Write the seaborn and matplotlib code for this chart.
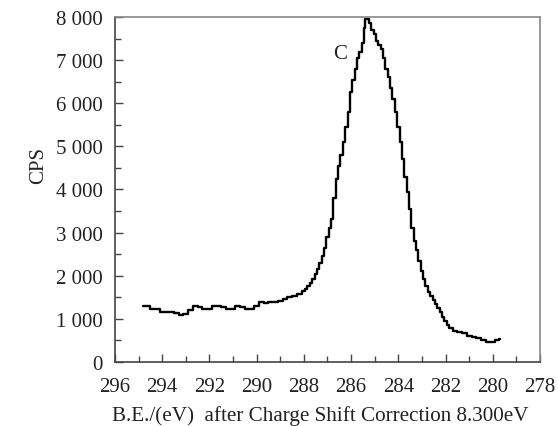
import matplotlib
matplotlib.use("Agg")
import matplotlib.pyplot as plt
import seaborn as sns
import pandas as pd
from matplotlib.ticker import MultipleLocator, FuncFormatter

binding_energy = [
    294.8, 294.6, 294.4, 294.2, 294.0, 293.8, 293.6, 293.4, 293.2, 293.0,
    292.8, 292.6, 292.4, 292.2, 292.0, 291.8, 291.6, 291.4, 291.2, 291.0,
    290.8, 290.6, 290.4, 290.2, 290.0, 289.8, 289.6, 289.4, 289.2, 289.0,
    288.8, 288.6, 288.4, 288.2, 288.0, 287.9, 287.8, 287.7, 287.6, 287.5,
    287.4, 287.3, 287.2, 287.1, 287.0, 286.9, 286.8, 286.7, 286.6, 286.5,
    286.4, 286.3, 286.2, 286.1, 286.0, 285.9, 285.8, 285.7, 285.6, 285.5,
    285.45, 285.4, 285.3, 285.2, 285.1, 285.0, 284.9, 284.8, 284.7, 284.6,
    284.5, 284.4, 284.3, 284.2, 284.1, 284.0, 283.9, 283.8, 283.7, 283.6,
    283.5, 283.4, 283.3, 283.2, 283.1, 283.0, 282.9, 282.8, 282.7, 282.6,
    282.5, 282.4, 282.3, 282.2, 282.1, 282.0, 281.9, 281.8, 281.6, 281.4,
    281.2, 281.0, 280.8, 280.6, 280.4, 280.2, 280.0, 279.8, 279.7,
]
cps = [
    1300, 1300, 1230, 1230, 1170, 1170, 1150, 1130, 1100, 1120,
    1200, 1300, 1270, 1230, 1230, 1300, 1300, 1280, 1230, 1230,
    1300, 1280, 1230, 1230, 1300, 1380, 1370, 1380, 1400, 1420,
    1460, 1500, 1540, 1580, 1640, 1700, 1760, 1840, 1930, 2050,
    2160, 2300, 2460, 2650, 2900, 3100, 3320, 3800, 4250, 4550,
    4800, 5100, 5450, 5800, 6250, 6550, 6800, 7050, 7200, 7400,
    7750, 7950, 7950, 7850, 7700, 7600, 7450, 7350, 7250, 7050,
    6800, 6600, 6350, 6100, 5800, 5450, 5100, 4700, 4300, 3950,
    3550, 3100, 2800, 2600, 2350, 2100, 1920, 1760, 1620, 1520,
    1440, 1350, 1250, 1150, 1050, 950, 850, 780, 720, 700,
    680, 600, 570, 560, 520, 470, 460, 520, 540,
]
x_ticks = [296, 294, 292, 290, 288, 286, 284, 282, 280, 278]
y_ticks = [0, 1000, 2000, 3000, 4000, 5000, 6000, 7000, 8000]
peak_label = "C"
x_label = "B.E./(eV)  after Charge Shift Correction 8.300eV"
y_label = "CPS"

df = pd.DataFrame({"be": binding_energy, "cps": cps})

sns.set_style("white")
plt.rcParams["font.family"] = ["Liberation Serif", "DejaVu Serif"]

fig = plt.figure(figsize=(5.58, 4.27), dpi=100)
ax = fig.add_axes([115 / 558, 1 - 363 / 427, (540 - 115) / 558, (363 - 18) / 427])

sns.lineplot(data=df, x="be", y="cps", ax=ax, color="black", linewidth=1.7,
             drawstyle="steps-mid", sort=False)

ax.set_xlim(296, 278)
ax.set_ylim(0, 8000)
ax.set_xticks(x_ticks)
ax.set_yticks(y_ticks)
ax.xaxis.set_minor_locator(MultipleLocator(1))
ax.yaxis.set_minor_locator(MultipleLocator(500))
ax.yaxis.set_major_formatter(FuncFormatter(
    lambda v, p: f"{int(v):,}".replace(",", " ")))
ax.tick_params(axis="both", which="both", direction="in", colors="#444444",
               labelcolor="#222222", labelsize=15, top=False, right=False,
               bottom=True, left=True)
ax.tick_params(which="major", length=6, width=1)
ax.tick_params(which="minor", length=4, width=1)
ax.tick_params(axis="x", pad=11)
ax.tick_params(axis="y", pad=9)

for side in ["left", "bottom"]:
    ax.spines[side].set_color("#444444")
    ax.spines[side].set_linewidth(1.2)
for side in ["top", "right"]:
    ax.spines[side].set_color("#888888")
    ax.spines[side].set_linewidth(1.2)

ax.set_xlabel(x_label, fontsize=15.2, color="#222222")
ax.xaxis.set_label_coords(0.483, -0.125)
ax.set_ylabel(y_label, fontsize=15, color="#222222")
ax.yaxis.set_label_coords(-0.158, 0.572)

ax.text(286.45, 7150, peak_label, fontsize=15, color="#222222",
        ha="center", va="center")

fig.savefig("out.png", dpi=100)
